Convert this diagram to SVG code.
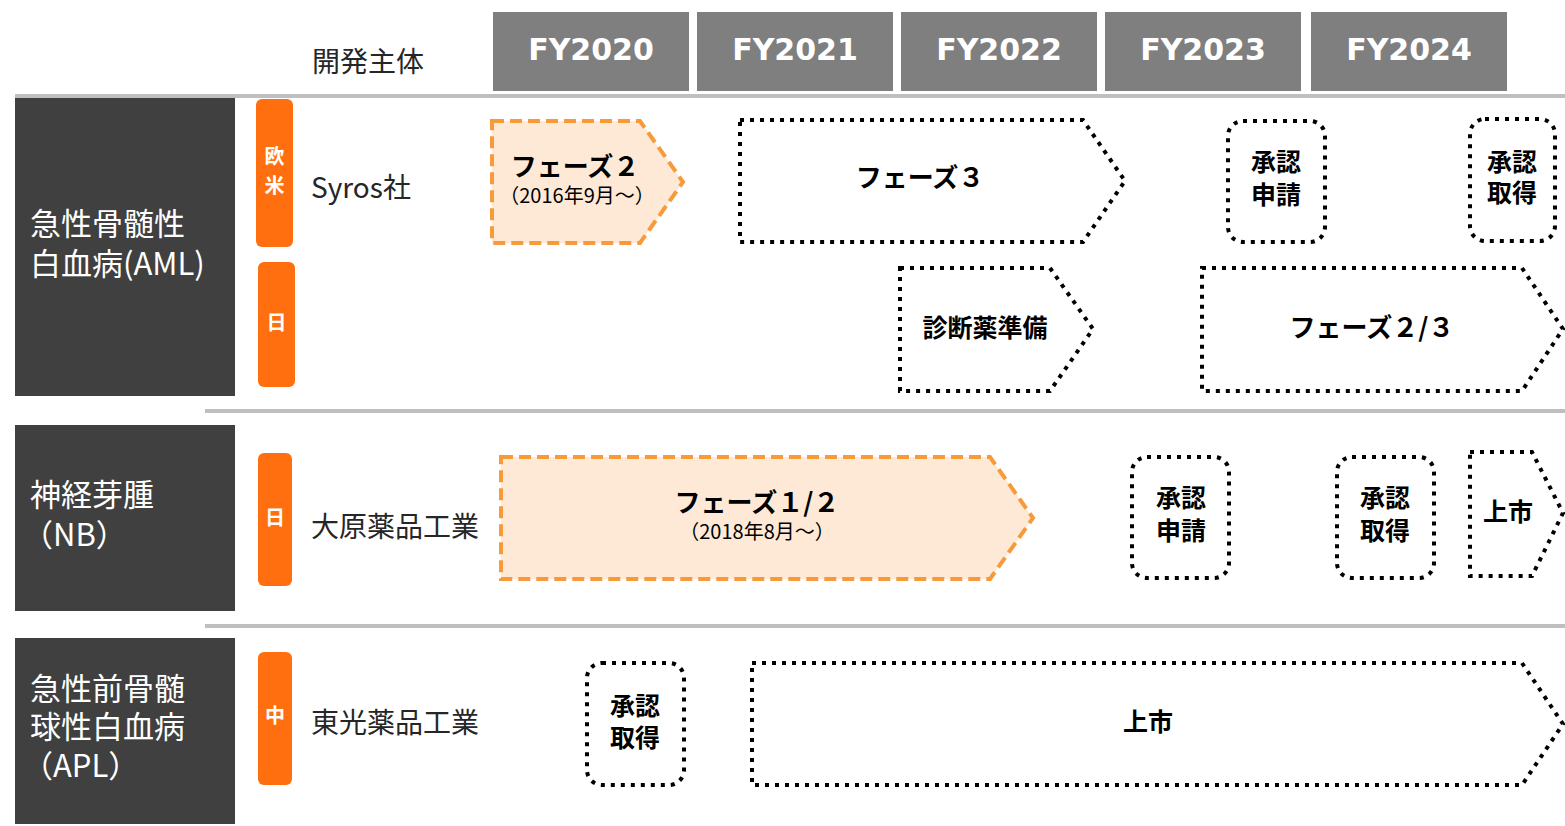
<svg xmlns="http://www.w3.org/2000/svg" width="1565" height="826" viewBox="0 0 1565 826">
<style>
text{font-family:"Noto Sans CJK JP","DejaVu Sans",sans-serif}
.yr{fill:#7f7f7f}
.yt{font-family:"DejaVu Sans","Noto Sans CJK JP",sans-serif;font-weight:bold;font-size:30px;fill:#fff;text-anchor:middle}
.sep{stroke:#bfbfbf;stroke-width:4;fill:none}
.dz{fill:#404040}
.dzt{fill:#fff;font-size:31px}
.tab{fill:#ff6f0f}
.tabt{fill:#fff;font-size:20px;font-weight:bold;text-anchor:middle}
.co{fill:#262626;font-size:28px}
.or{fill:#fde9d6;stroke:#f79a3a;stroke-width:4;stroke-dasharray:12 6}
.dt{fill:#fff;stroke:#000;stroke-width:4;stroke-dasharray:4 6}
.bt{font-weight:bold;font-size:26px;fill:#000;text-anchor:middle}
.st{font-size:20px;font-weight:normal}
.bx{font-weight:bold;font-size:25px;fill:#000;text-anchor:middle}
</style>
<rect width="1565" height="826" fill="#fff"/>
<g id="header">
<text x="312" y="72" class="co" font-size="26">開発主体</text>
<rect class="yr" x="493" y="12" width="196" height="79"/>
<text class="yt" x="591" y="60">FY2020</text>
<rect class="yr" x="697" y="12" width="196" height="79"/>
<text class="yt" x="795" y="60">FY2021</text>
<rect class="yr" x="901" y="12" width="196" height="79"/>
<text class="yt" x="999" y="60">FY2022</text>
<rect class="yr" x="1105" y="12" width="196" height="79"/>
<text class="yt" x="1203" y="60">FY2023</text>
<rect class="yr" x="1311" y="12" width="196" height="79"/>
<text class="yt" x="1409" y="60">FY2024</text>
</g>
<g id="separators">
<line class="sep" x1="15" y1="96" x2="1565" y2="96"/>
<line class="sep" x1="205" y1="411" x2="1565" y2="411"/>
<line class="sep" x1="205" y1="626" x2="1565" y2="626"/>
</g>
<g id="row-aml">
<rect class="dz" x="15" y="98" width="220" height="298"/>
<text class="dzt" x="30" y="235">急性骨髄性<tspan x="30" y="275">白血病(AML)</tspan></text>
<rect class="tab" x="256" y="99" width="37" height="148" rx="6"/>
<text class="tabt" x="274.5" y="164">欧<tspan x="274.5" y="193">米</tspan></text>
<rect class="tab" x="258" y="262" width="37" height="125" rx="6"/>
<text class="tabt" x="276.5" y="330">日</text>
<text class="co" x="311" y="198">Syros社</text>
</g>
<g id="row-nb">
<rect class="dz" x="15" y="425" width="220" height="186"/>
<text class="dzt" x="30" y="506">神経芽腫<tspan x="22" y="546">（NB）</tspan></text>
<rect class="tab" x="258" y="453" width="34" height="133" rx="6"/>
<text class="tabt" x="275" y="525">日</text>
<text class="co" x="311" y="537">大原薬品工業</text>
</g>
<g id="row-apl">
<rect class="dz" x="15" y="638" width="220" height="186"/>
<text class="dzt" x="30" y="700">急性前骨髄<tspan x="30" y="738">球性白血病</tspan><tspan x="22" y="777">（APL）</tspan></text>
<rect class="tab" x="258" y="652" width="34" height="133" rx="6"/>
<text class="tabt" x="275" y="723">中</text>
<text class="co" x="311" y="733">東光薬品工業</text>
</g>
<g id="aml-phase2">
<path class="or" d="M492 121 H640 L683 182 L640 243 H492 Z"/>
<text class="bt" x="575" y="176">フェーズ２<tspan class="st" x="577" y="203">（2016年9月～）</tspan></text>
</g>
<g id="aml-phase3">
<path class="dt" d="M740 120 H1083 L1125 181 L1083 242 H740 Z"/>
<text class="bt" x="920" y="187">フェーズ３</text>
</g>
<g id="aml-us-filing">
<rect class="dt" x="1228" y="121" width="97" height="121" rx="15"/>
<text class="bx" x="1276" y="171">承認<tspan x="1276" y="204">申請</tspan></text>
</g>
<g id="aml-us-approval">
<rect class="dt" x="1470" y="119" width="85" height="122" rx="15"/>
<text class="bx" x="1512" y="171">承認<tspan x="1512" y="202">取得</tspan></text>
</g>
<g id="aml-diag">
<path class="dt" d="M900 268 H1050 L1093 329 L1050 391 H900 Z"/>
<text class="bx" x="985" y="337">診断薬準備</text>
</g>
<g id="aml-jp-phase23">
<path class="dt" d="M1202 268 H1522 L1563 329 L1522 391 H1202 Z"/>
<text class="bt" x="1372" y="337">フェーズ２/３</text>
</g>
<g id="nb-phase12">
<path class="or" d="M501 457 H990 L1033 518 L990 579 H501 Z"/>
<text class="bt" x="757" y="512">フェーズ１/２<tspan class="st" x="757" y="539">（2018年8月～）</tspan></text>
</g>
<g id="nb-filing">
<rect class="dt" x="1132" y="457" width="97" height="121" rx="15"/>
<text class="bx" x="1181" y="507">承認<tspan x="1181" y="540">申請</tspan></text>
</g>
<g id="nb-approval">
<rect class="dt" x="1337" y="457" width="97" height="121" rx="15"/>
<text class="bx" x="1385" y="507">承認<tspan x="1385" y="540">取得</tspan></text>
</g>
<g id="nb-launch">
<path class="dt" d="M1470 452 H1532 L1563 513 L1532 576 H1470 Z"/>
<text class="bx" x="1508" y="521">上市</text>
</g>
<g id="apl-approval">
<rect class="dt" x="587" y="663" width="97" height="122" rx="15"/>
<text class="bx" x="635" y="715">承認<tspan x="635" y="747">取得</tspan></text>
</g>
<g id="apl-launch">
<path class="dt" d="M752 663 H1522 L1563 724 L1522 785 H752 Z"/>
<text class="bx" x="1148" y="731">上市</text>
</g>
<g id="connectors"></g>
</svg>
